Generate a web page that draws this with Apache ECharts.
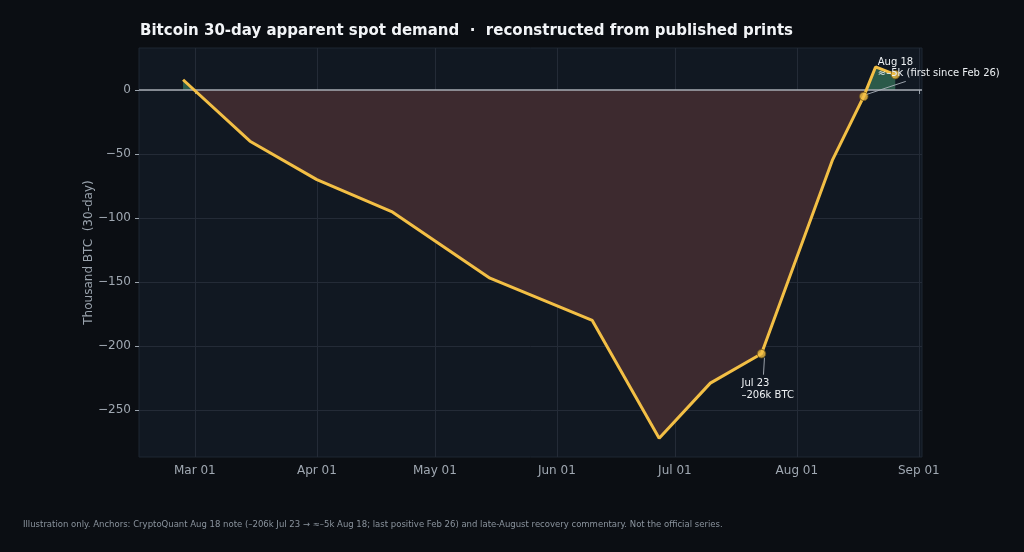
<!DOCTYPE html>
<html><head><meta charset="utf-8">
<script src="https://cdn.jsdelivr.net/npm/echarts@6/dist/echarts.min.js"></script>
<style>html,body{margin:0;padding:0;background:#0b0e13;}#c{width:1024px;height:552px;}</style>
</head><body><div id="c"></div>
<script>
// ---- data (thousand BTC, 30-day apparent demand) ----
const dates = ['2025-02-26','2025-03-15','2025-04-01','2025-04-20','2025-05-15','2025-06-10','2025-06-27','2025-07-10','2025-07-23','2025-08-10','2025-08-18','2025-08-21','2025-08-26'];
const demand = [8, -40, -70, -95, -147, -180, -272, -229, -206, -55, -5, 18, 12];
const markedDates = ['2025-07-23','2025-08-18','2025-08-26'];
const monthTicks = ['2025-03-01','2025-04-01','2025-05-01','2025-06-01','2025-07-01','2025-08-01','2025-09-01'];
const yTicks = [-250,-200,-150,-100,-50,0];
const annotations = [
  {date:'2025-07-23', value:-206, text:'Jul 23\n–206k BTC', dx:-20, dy:24, lx:2, ly:21},
  {date:'2025-08-18', value:-5, text:'Aug 18\n≈–5k (first since Feb 26)', dx:14, dy:-40, lx:42, ly:-15}
];
const MONTHS = ['Jan','Feb','Mar','Apr','May','Jun','Jul','Aug','Sep','Oct','Nov','Dec'];
const DAY = 86400000;
const ts = d => { const p = d.split('-'); return Date.UTC(+p[0], +p[1]-1, +p[2]); };
const lineData = dates.map((d,i)=>[ts(d), demand[i]]);
const markData = dates.map((d,i)=>[ts(d), demand[i]]).filter((p,i)=>markedDates.includes(dates[i]));
const fmtY = v => (v<0 ? '\u2212'+Math.abs(v) : String(v));
const fmtX = v => { const d = new Date(v); return MONTHS[d.getUTCMonth()]+' '+String(d.getUTCDate()).padStart(2,'0'); };

const chart = echarts.init(document.getElementById('c'), null, {renderer:'canvas'});
const FONT = 'DejaVu Sans';
const footnote = {type:'text', left:23, top:520, style:{text:'Illustration only. Anchors: CryptoQuant Aug 18 note (–206k Jul 23 → ≈–5k Aug 18; last positive Feb 26) and late-August recovery commentary. Not the official series.',
      fill:'#8a939d', font:'8.5px "DejaVu Sans"'}};
chart.setOption({
  backgroundColor:'#0b0e13',
  animation:false,
  textStyle:{fontFamily:FONT},
  title:{text:'Bitcoin 30-day apparent spot demand  ·  reconstructed from published prints', left:135, top:19,
    textStyle:{color:'#f2f4f7', fontSize:15, fontWeight:'bold', fontFamily:FONT}},
  grid:{left:139, right:102, top:48, bottom:95, show:true, backgroundColor:'#111822', borderColor:'#1f2733', borderWidth:1},
  xAxis:{type:'value', min:ts('2025-02-14')+0.8*DAY, max:ts('2025-09-01')+0.8*DAY, scale:true,
    axisLine:{show:false},
    axisTick:{show:true, length:4, lineStyle:{color:'#9aa3ad'}, customValues: monthTicks.map(ts)},
    axisLabel:{color:'#a0a8b2', fontSize:12, margin:8, formatter:fmtX, customValues: monthTicks.map(ts)},
    splitLine:{show:true, lineStyle:{color:'#242b37', width:1}}
  },
  yAxis:{type:'value', min:-286.7, max:32.8,
    name:'Thousand BTC  (30-day)', nameLocation:'middle', nameGap:44, nameRotate:90, nameMoveOverlap:false,
    nameTextStyle:{color:'#9aa3ad', fontSize:12},
    axisLine:{show:false},
    axisTick:{show:true, length:4, lineStyle:{color:'#9aa3ad'}, customValues: yTicks},
    axisLabel:{color:'#a0a8b2', fontSize:12, margin:8, formatter:fmtY, customValues: yTicks},
    splitLine:{show:true, lineStyle:{color:'#242b37', width:1}}
  },
  visualMap:{show:false, type:'piecewise', seriesIndex:0, dimension:1,
    pieces:[{min:-1000, max:0, color:'#3d2a2f'},{min:0, max:1000, color:'#2b5a4a'}]},
  series:[
    {type:'line', data:lineData, showSymbol:false, symbol:'none', lineStyle:{width:0},
      areaStyle:{origin:0, opacity:1}, z:1, silent:true},
    {type:'line', data:lineData, showSymbol:false, symbol:'none', lineStyle:{color:'#f3bf45', width:3}, itemStyle:{color:'#f3bf45'}, z:4,
      markLine:{silent:true, symbol:'none', label:{show:false}, lineStyle:{color:'#a7adb5', width:1.5, type:'solid'}, data:[{yAxis:0}], z:3}},
    {type:'scatter', data:markData, symbolSize:8.5, itemStyle:{color:'#f3bf45', borderColor:'#6b5318', borderWidth:1}, z:5}
  ],
  graphic:[footnote]
});

// annotations placed from data coordinates
const g = [footnote];
annotations.forEach(a=>{
  const p = chart.convertToPixel({gridIndex:0}, [ts(a.date), a.value]);
  g.push({type:'line', shape:{x1:p[0]+(a.lx>0?3:0), y1:p[1]+(a.ly>0?4:-2), x2:p[0]+a.lx, y2:p[1]+a.ly}, style:{stroke:'#aab1ba', lineWidth:0.9}, z:10});
  g.push({type:'text', x:p[0]+a.dx, y:p[1]+a.dy, style:{text:a.text, fill:'#eef1f4', font:'10px "DejaVu Sans"', lineHeight:11.5}, z:11});
});
chart.setOption({graphic: g}, {replaceMerge:['graphic']});
</script>
</body></html>
